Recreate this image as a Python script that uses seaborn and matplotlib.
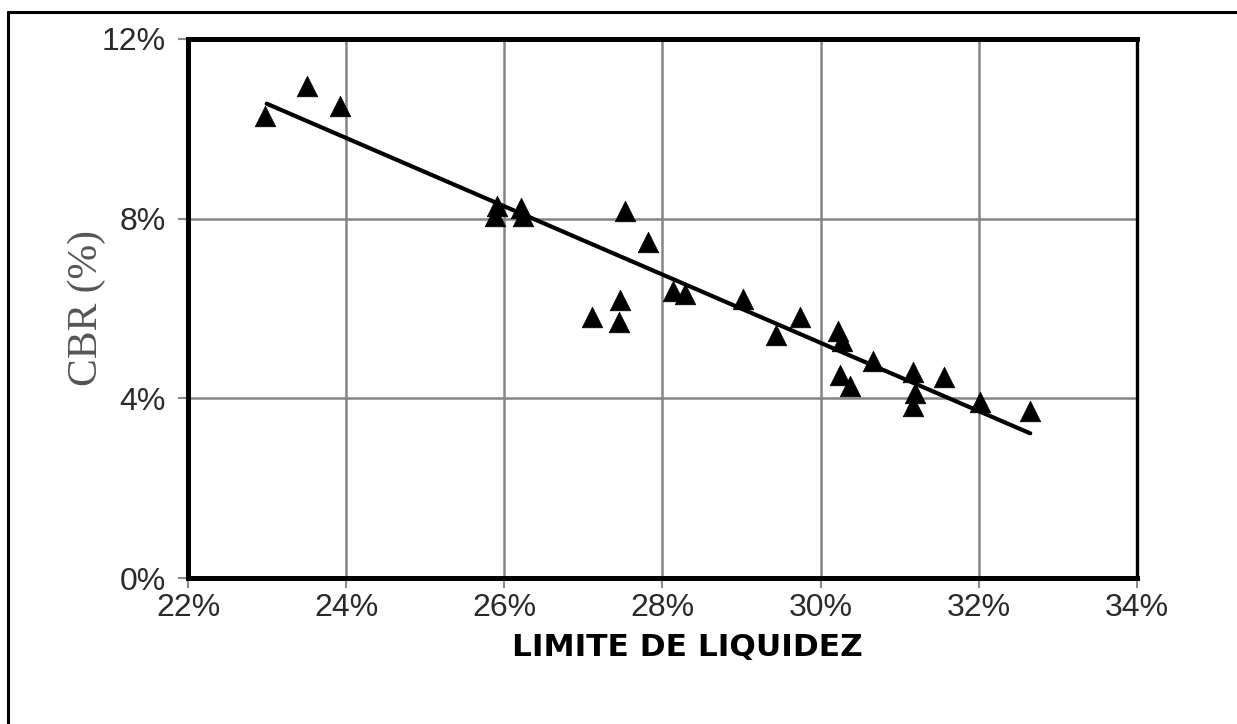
import numpy as np
import pandas as pd
import matplotlib
matplotlib.use("Agg")
import matplotlib.pyplot as plt
import seaborn as sns
from matplotlib.lines import Line2D
from matplotlib.ticker import FuncFormatter

# ---- data (values in %) ----
liquid_limit = [22.97, 23.51, 23.92, 25.91, 25.88, 26.21, 26.24, 27.53, 27.82,
                28.13, 28.28, 27.11, 27.46, 27.45, 29.02, 29.44, 29.74, 30.22,
                30.27, 30.24, 30.37, 30.66, 31.17, 31.19, 31.17, 31.56, 32.02,
                32.65]
cbr = [10.29, 10.96, 10.51, 8.29, 8.07, 8.24, 8.07, 8.16, 7.47,
       6.40, 6.33, 5.80, 6.18, 5.69, 6.22, 5.40, 5.80, 5.51,
       5.27, 4.51, 4.27, 4.84, 4.58, 4.11, 3.84, 4.47, 3.91,
       3.71]
trend_x = [22.995, 32.65]
trend_y = [10.56, 3.22]

x_ticks = [22, 24, 26, 28, 30, 32, 34]
y_ticks = [0, 4, 8, 12]
x_label = "LIMITE DE LIQUIDEZ"
y_label = "CBR (%)"

df = pd.DataFrame({"ll": liquid_limit, "cbr": cbr})
trend = pd.DataFrame({"x": trend_x, "y": trend_y})

sns.set_theme(style="white")
plt.rcParams['font.family'] = ['Liberation Sans', 'DejaVu Sans']

fig = plt.figure(figsize=(12.37, 7.24), dpi=100)
fig.patch.set_facecolor("white")
ax = fig.add_axes([188/1237, 1-578/724, (1137-188)/1237, (578-39)/724])
ax.set_facecolor("white")

sns.lineplot(data=trend, x="x", y="y", ax=ax, color="black", linewidth=3.0, zorder=3)
sns.scatterplot(data=df, x="ll", y="cbr", ax=ax, marker="^", s=220,
                color="black", edgecolor="black", linewidth=0.5, zorder=4)

ax.set_xlim(22, 34)
ax.set_ylim(0, 12)
ax.set_xticks(x_ticks)
ax.set_yticks(y_ticks)
fmt = FuncFormatter(lambda v, p: f"{v:.0f}%")
ax.xaxis.set_major_formatter(fmt)
ax.yaxis.set_major_formatter(fmt)
ax.grid(True, color="#858585", linewidth=1.8)
ax.set_axisbelow(True)

for name, sp in ax.spines.items():
    sp.set_visible(True)
    sp.set_color("black")
    sp.set_linewidth(3.6 if name != "right" else 2.4)
    sp.set_zorder(5)

ax.tick_params(axis="both", which="both", direction="out", length=7, width=1.5,
               color="#8a8a8a", labelsize=23, labelcolor="#2a2a2a")
ax.tick_params(axis="x", pad=4, bottom=True)
ax.tick_params(axis="y", pad=9, left=True)
ax.set_xlabel("")
ax.set_ylabel("")

fig.text(87/1237, 1-308/724, y_label, rotation=90, ha="center", va="center",
         fontsize=30, color="#555555", family=["Liberation Serif", "DejaVu Serif"])
fig.text(687/1237, 1-648/724, x_label, ha="center", va="center",
         fontsize=22.5, fontweight="bold", color="black", family=["DejaVu Sans"])

# outer frame (left and top edges visible)
fig.add_artist(Line2D([8/1237, 8/1237], [0, 1-12/724], transform=fig.transFigure,
                      color="black", linewidth=2.2))
fig.add_artist(Line2D([8/1237, 1], [1-12/724, 1-12/724], transform=fig.transFigure,
                      color="black", linewidth=2.2))

fig.savefig("out.png", dpi=100, facecolor="white")
